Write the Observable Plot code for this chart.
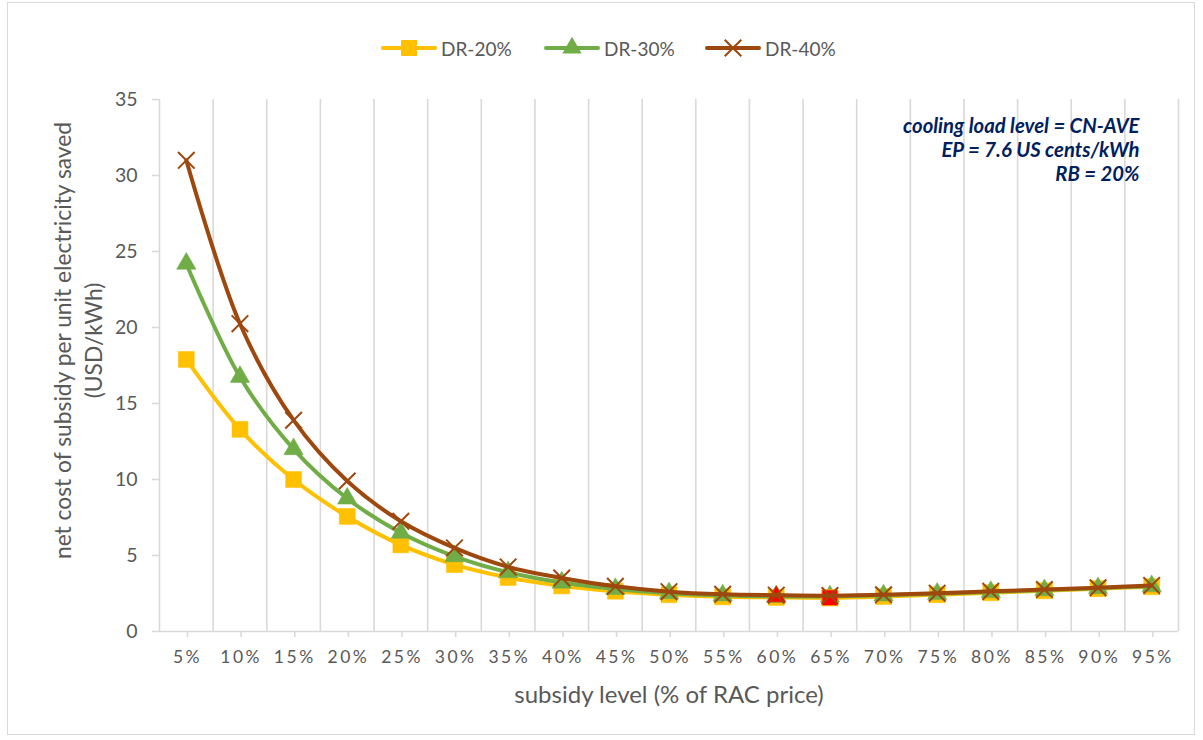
<!DOCTYPE html>
<html>
<head>
<meta charset="utf-8">
<script src="https://cdn.jsdelivr.net/npm/d3@7"></script>
<script src="https://cdn.jsdelivr.net/npm/@observablehq/plot@0.6"></script>
<style>
  html, body { margin: 0; padding: 0; background: #fff; }
  #chart { position: relative; width: 1203px; height: 740px; font-family: Lato, "Open Sans", sans-serif; }
  #frame { position: absolute; left: 7px; top: 2px; width: 1188px; height: 733px; border: 1px solid #d9d9d9; box-sizing: border-box; }
  #legend { position: absolute; top: 36px; left: 0; width: 1203px; height: 24px; font-size: 19px; color: #595959; }
  #legend .item { position: absolute; top: 0; display: flex; align-items: center; gap: 3px; }
  #plot { position: absolute; left: 0; top: 0; }
  #plot g[aria-label="x-axis tick label"] text { letter-spacing: 2.5px; }
</style>
</head>
<body>
<div id="chart">
  <div id="frame"></div>
  <div id="plot"></div>
  <div id="legend"></div>
</div>
<script>
// Subsidy levels on the horizontal axis
const levels = ["5%", "10%", "15%", "20%", "25%", "30%", "35%", "40%", "45%", "50%",
                "55%", "60%", "65%", "70%", "75%", "80%", "85%", "90%", "95%"];

// Net cost of subsidy per unit electricity saved (USD/kWh), one array per discount rate
const dr20 = [17.9, 13.3, 10.0, 7.57, 5.7, 4.4, 3.55, 3.0, 2.65, 2.42, 2.28, 2.24, 2.22, 2.3, 2.42, 2.55, 2.68, 2.82, 2.95];
const dr30 = [24.2, 16.75, 12.0, 8.75, 6.5, 4.95, 3.9, 3.22, 2.8, 2.52, 2.38, 2.3, 2.31, 2.38, 2.48, 2.6, 2.72, 2.85, 2.98];
const dr40 = [31.0, 20.25, 13.9, 9.9, 7.25, 5.5, 4.25, 3.52, 2.97, 2.62, 2.45, 2.39, 2.36, 2.42, 2.52, 2.64, 2.76, 2.88, 3.03];

const seriesNames = ["DR-20%", "DR-30%", "DR-40%"];
const seriesColors = ["#FFC000", "#70AD47", "#9E480E"];
const seriesSymbols = ["square", "triangle", "times"];
const yTicks = [0, 5, 10, 15, 20, 25, 30, 35];

const annotation = ["cooling load level = CN-AVE", "EP = 7.6 US cents/kWh", "RB = 20%"];
const xTitle = "subsidy level (% of RAC price)";
const yTitle = ["net cost of subsidy per unit electricity saved", "(USD/kWh)"];

const toRows = (vals) => vals.map((v, i) => ({i: i + 1, level: levels[i], v}));
const rows = [toRows(dr20), toRows(dr30), toRows(dr40)];

// lowest point of a series, shown in red
const minRow = (r) => r.reduce((a, b) => (b.v < a.v ? b : a));

const idx = levels.map((_, i) => i + 1);
const bounds = levels.map((_, i) => i + 0.5).concat([levels.length + 0.5]);

const gridColor = "#d9d9d9";
const textColor = "#595959";
const symbolR = {square: 9, triangle: 7.2, times: 7.6};

function seriesMarks(k) {
  const s = seriesSymbols[k];
  const marks = [
    Plot.line(rows[k], {x: "i", y: "v", stroke: seriesColors[k], strokeWidth: 4, curve: "catmull-rom"})
  ];
  if (s === "times") {
    marks.push(Plot.dot(rows[k], {x: "i", y: "v", symbol: s, r: symbolR[s], stroke: seriesColors[k], strokeWidth: 2}));
  } else {
    marks.push(Plot.dot(rows[k], {x: "i", y: "v", symbol: s, r: symbolR[s], fill: seriesColors[k], stroke: seriesColors[k], strokeWidth: 0.5}));
  }
  return marks;
}

const chart = Plot.plot({
  width: 1203,
  height: 740,
  marginTop: 99,
  marginBottom: 109,
  marginLeft: 159,
  marginRight: 25,
  style: {fontFamily: "Lato, 'Open Sans', sans-serif", background: "transparent", overflow: "visible"},
  x: {type: "linear", domain: [0.5, levels.length + 0.5]},
  y: {domain: [0, 35]},
  marks: [
    Plot.ruleX(bounds, {stroke: gridColor, strokeWidth: 1.6}),
    Plot.ruleY([0], {stroke: gridColor, strokeWidth: 1.6}),
    Plot.axisY({ticks: yTicks, tickSize: 7, tickPadding: 15, stroke: gridColor, strokeWidth: 1.6, fill: textColor, fontSize: 19.5, label: null}),
    Plot.axisX({ticks: idx, tickFormat: (d) => levels[d - 1], tickSize: 6, tickPadding: 13, dx: 1.2, stroke: gridColor, strokeWidth: 1.6, fill: textColor, fontSize: 17.5, label: null}),
    Plot.text([xTitle], {frameAnchor: "bottom", dy: 71, fontSize: 24, fill: textColor}),
    Plot.text([yTitle.join("\n")], {frameAnchor: "left", dx: -83, dy: -25, rotate: -90, fontSize: 22.8, fill: textColor, textAnchor: "middle", lineHeight: 1.38}),
    ...seriesMarks(0),
    ...seriesMarks(1),
    Plot.dot([minRow(rows[0])], {x: "i", y: "v", symbol: "square", r: symbolR.square, fill: "#FF0000", stroke: "#FFC000", strokeWidth: 0.8}),
    Plot.dot([minRow(rows[1])], {x: "i", y: "v", symbol: "triangle", r: symbolR.triangle, fill: "#FF0000", stroke: "#70AD47", strokeWidth: 0.5}),
    ...seriesMarks(2),
    Plot.text([annotation.join("\n")], {frameAnchor: "top-right", dx: -39, dy: 17, textAnchor: "end", lineAnchor: "top",
                                        lineHeight: 1.17, fontSize: 20.3, fontWeight: "bold", fontStyle: "italic", fill: "#002060"})
  ]
});
document.getElementById("plot").appendChild(chart);

// Legend: line swatch with its marker, then the series name
const legendStarts = [380, 543, 704];
const legend = d3.select("#legend");
seriesNames.forEach((name, k) => {
  const s = seriesSymbols[k];
  const item = legend.append("div").attr("class", "item").style("left", legendStarts[k] + "px");
  const svg = item.append("svg").attr("width", 58).attr("height", 24);
  svg.append("line").attr("x1", 3).attr("x2", 55).attr("y1", 12).attr("y2", 12)
    .attr("stroke", seriesColors[k]).attr("stroke-width", 4).attr("stroke-linecap", "round");
  const sym = {square: d3.symbolSquare, triangle: d3.symbolTriangle, times: d3.symbolTimes}[s];
  const path = svg.append("path").attr("transform", "translate(29,12)")
    .attr("d", d3.symbol(sym, Math.PI * symbolR[s] * symbolR[s])());
  if (s === "times") path.attr("fill", "none").attr("stroke", seriesColors[k]).attr("stroke-width", 2);
  else path.attr("fill", seriesColors[k]);
  item.append("span").text(name);
});
</script>
</body>
</html>
